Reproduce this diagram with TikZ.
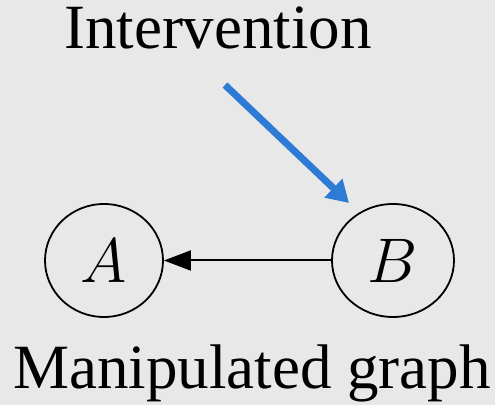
\RequirePackage{fix-cm}
\documentclass[tikz,border=0pt]{standalone}
\usepackage{fontspec}
\setmainfont{Liberation Serif}
\usepackage{amsmath}
\usepackage{xcolor}
\usepackage{tikz}
\usetikzlibrary{arrows.meta,positioning,shapes.geometric}
\definecolor{bggray}{HTML}{E8E8E8}
\definecolor{interblue}{HTML}{2E7BD6}

\begin{document}
\begin{tikzpicture}[x=0.5pt, y=-0.5pt, every node/.style={font=\fontsize{31.5}{36}\selectfont},
    var/.style={draw, ellipse, line width=0.9pt, inner sep=0pt, minimum height=56.5pt}]
  \fill[bggray] (0,0) rectangle (495,405);
  \useasboundingbox (0,0) rectangle (495,405);
  \node[anchor=base] (title) at (218,49) {Intervention};
  \node[var, minimum width=59pt] (A) at (104,260.5) {$A$};
  \node[var, minimum width=61pt] (B) at (393,260.5) {$B$};
  \node[anchor=base] (caption) at (252,389) {Manipulated graph};
  \coordinate (src) at (225,85);
  \coordinate (tgt) at (349,203);
  \draw[-{Triangle[length=13.5pt, width=10pt]}, line width=1pt] (B) -- (A);
  \draw[-{Triangle[length=10.8pt, width=12.4pt]}, line width=3.5pt, interblue] (src) -- (tgt);
\end{tikzpicture}
\end{document}
